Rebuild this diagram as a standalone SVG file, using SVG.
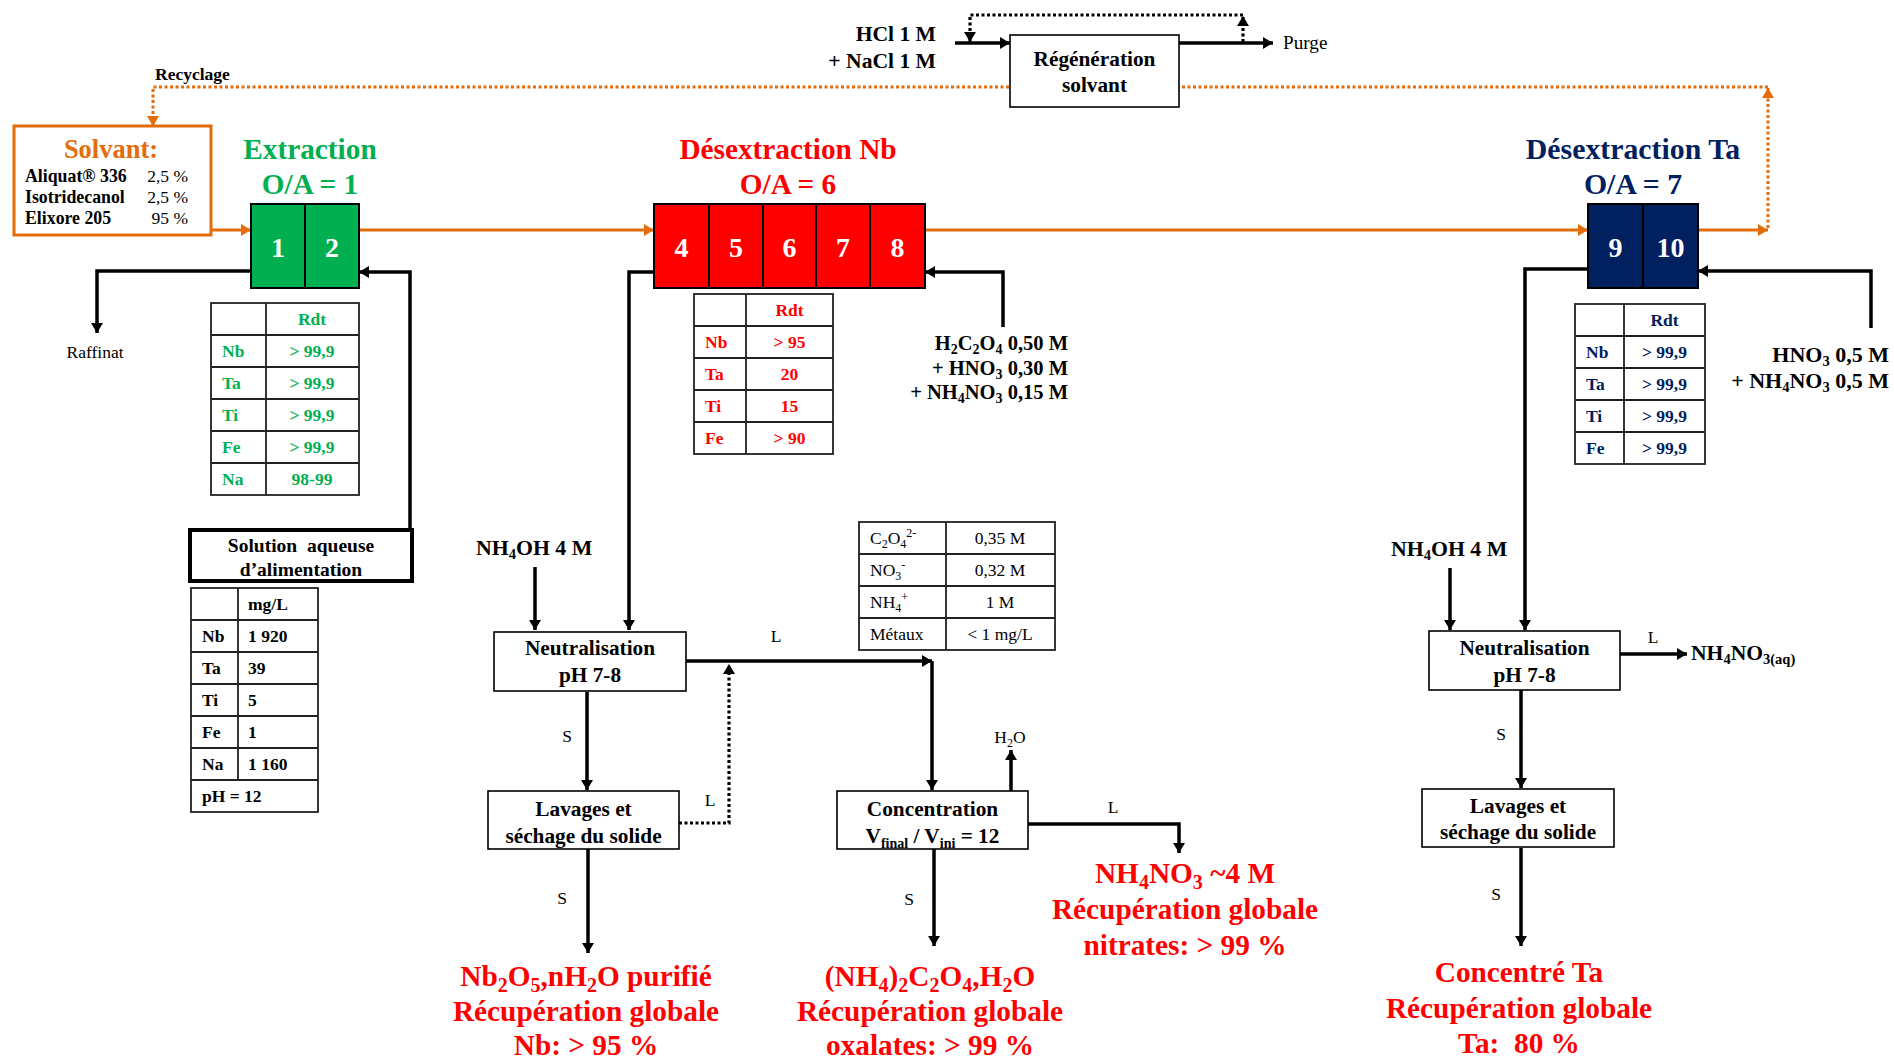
<svg xmlns="http://www.w3.org/2000/svg" width="1894" height="1059" viewBox="0 0 1894 1059">
<style>
text{font-family:"Liberation Serif","Times New Roman",serif}
.b{font-weight:bold}
.c{text-anchor:middle}
.e{text-anchor:end}
.t29{font-size:29.3px}
.t21{font-size:21.3px}
.t18{font-size:17.5px}
.box{fill:#fff;stroke:#000;stroke-width:1.6}
.ln{fill:none;stroke:#000;stroke-width:3.5}
.dot{fill:none;stroke:#000;stroke-width:3.2;stroke-dasharray:3 2.5}
.or{fill:none;stroke:#E46C0A;stroke-width:3}
.ord{fill:none;stroke:#E46C0A;stroke-width:3;stroke-dasharray:3 2.5}
.tb{fill:#fff;stroke:#222;stroke-width:1.8}
.tl{stroke:#222;stroke-width:1.8}
.green{fill:#00B050}
.red{fill:#FF0000}
.navy{fill:#002060}
.orange{fill:#E46C0A}
.wn{fill:#fff;font-weight:bold;font-size:28px;text-anchor:middle}
</style>
<defs>
<marker id="ab" markerWidth="11" markerHeight="12" refX="10" refY="6" orient="auto" markerUnits="userSpaceOnUse"><path d="M0,0 L10,6 L0,12 z" fill="#000"/></marker>
<marker id="ao" markerWidth="11" markerHeight="12" refX="10" refY="6" orient="auto" markerUnits="userSpaceOnUse"><path d="M0,0 L10,6 L0,12 z" fill="#E46C0A"/></marker>
</defs>
<rect width="1894" height="1059" fill="#fff"/>

<g id="connectors">
<path class="or" d="M211,230 H251" marker-end="url(#ao)"/>
<path class="or" d="M359,230 H654" marker-end="url(#ao)"/>
<path class="or" d="M925,230 H1588" marker-end="url(#ao)"/>
<path class="or" d="M1698,230 H1768" marker-end="url(#ao)"/>
<path class="ord" d="M1768,228 V88" marker-end="url(#ao)"/>
<path class="ord" d="M1768,87 H153 V126" marker-end="url(#ao)"/>
<path class="ln" d="M251,271 H97 V333" marker-end="url(#ab)"/>
<path class="ln" d="M410,530 V272 H359" marker-end="url(#ab)"/>
<path class="ln" d="M654,272 H629 V630" marker-end="url(#ab)"/>
<path class="ln" d="M1003,327 V272 H925" marker-end="url(#ab)"/>
<path class="ln" d="M535,567 V630" marker-end="url(#ab)"/>
<path class="ln" d="M686,661 H932" marker-end="url(#ab)"/>
<path class="ln" d="M932,661 V790" marker-end="url(#ab)"/>
<path class="ln" d="M587,692 V790" marker-end="url(#ab)"/>
<path class="ln" d="M588,849 V953" marker-end="url(#ab)"/>
<path class="dot" d="M679,823 H729 V664" marker-end="url(#ab)"/>
<path class="ln" d="M1011,791 V750" marker-end="url(#ab)"/>
<path class="ln" d="M934,849 V946" marker-end="url(#ab)"/>
<path class="ln" d="M1028,824 H1179 V853" marker-end="url(#ab)"/>
<path class="ln" d="M1588,269 H1525 V630" marker-end="url(#ab)"/>
<path class="ln" d="M1871,328 V271 H1698" marker-end="url(#ab)"/>
<path class="ln" d="M1450,568 V630" marker-end="url(#ab)"/>
<path class="ln" d="M1620,654 H1687" marker-end="url(#ab)"/>
<path class="ln" d="M1521,690 V788" marker-end="url(#ab)"/>
<path class="ln" d="M1521,848 V946" marker-end="url(#ab)"/>
<path class="ln" d="M955,43 H1010" marker-end="url(#ab)"/>
<path class="ln" d="M1179,43 H1273" marker-end="url(#ab)"/>
<path class="dot" d="M1243,42 V16" marker-end="url(#ab)"/>
<path class="dot" d="M1243,15 H970 V42" marker-end="url(#ab)"/>
</g>

<g id="labels">
<text class="b t18" x="155" y="80">Recyclage</text>
<text class="b e" font-size="21.6" x="936" y="41">HCl 1 M</text>
<text class="b e" font-size="21.6" x="936" y="68">+ NaCl 1 M</text>
<text x="1283" y="49" font-size="19.2">Purge</text>
<text class="t18 c" x="95" y="358">Raffinat</text>
<text class="b e" font-size="20.5" x="1068" y="350">H<tspan dy="4" font-size="14">2</tspan><tspan dy="-4">C</tspan><tspan dy="4" font-size="14">2</tspan><tspan dy="-4">O</tspan><tspan dy="4" font-size="14">4</tspan><tspan dy="-4"> 0,50 M</tspan></text>
<text class="b e" font-size="20.5" x="1068" y="375">+ HNO<tspan dy="4" font-size="14">3</tspan><tspan dy="-4"> 0,30 M</tspan></text>
<text class="b e" font-size="20.5" x="1068" y="399">+ NH<tspan dy="4" font-size="14">4</tspan><tspan dy="-4">NO</tspan><tspan dy="4" font-size="14">3</tspan><tspan dy="-4"> 0,15 M</tspan></text>
<text class="b e" font-size="22" x="1889" y="362">HNO<tspan dy="4" font-size="14.5">3</tspan><tspan dy="-4"> 0,5 M</tspan></text>
<text class="b e" font-size="22" x="1889" y="388">+ NH<tspan dy="4" font-size="14.5">4</tspan><tspan dy="-4">NO</tspan><tspan dy="4" font-size="14.5">3</tspan><tspan dy="-4"> 0,5 M</tspan></text>
<text class="b" font-size="21.8" x="476" y="555">NH<tspan dy="4" font-size="14.5">4</tspan><tspan dy="-4">OH 4 M</tspan></text>
<text class="b" font-size="21.8" x="1391" y="556">NH<tspan dy="4" font-size="14.5">4</tspan><tspan dy="-4">OH 4 M</tspan></text>
<text class="t18 c" x="776" y="642">L</text>
<text class="t18 c" x="710" y="806">L</text>
<text class="t18 c" x="567" y="742">S</text>
<text class="t18 c" x="562" y="904">S</text>
<text class="t18 c" x="909" y="905">S</text>
<text class="t18 c" x="1010" y="743">H<tspan dy="4" font-size="12">2</tspan><tspan dy="-4">O</tspan></text>
<text class="t18 c" x="1113" y="813">L</text>
<text class="t18 c" x="1653" y="643">L</text>
<text class="t18 c" x="1501" y="740">S</text>
<text class="t18 c" x="1496" y="900">S</text>
<text class="b" font-size="21.6" x="1691" y="660">NH<tspan dy="4" font-size="14.5">4</tspan><tspan dy="-4">NO</tspan><tspan dy="4" font-size="14.5">3(aq)</tspan></text>
</g>

<g id="titles">
<text class="b t29 c green" x="310" y="158.5">Extraction</text>
<text class="b t29 c green" x="310" y="194">O/A = 1</text>
<text class="b t29 c red" x="788" y="158.5">Désextraction Nb</text>
<text class="b t29 c red" x="788" y="194">O/A = 6</text>
<text class="b c navy" font-size="29.8" x="1633" y="159">Désextraction Ta</text>
<text class="b c navy" font-size="29.8" x="1633" y="194">O/A = 7</text>
</g>

<g id="solvant">
<rect x="14" y="126" width="197" height="109" fill="#fff" stroke="#E46C0A" stroke-width="3"/>
<text class="b c orange" font-size="26.5" x="111" y="158">Solvant:</text>
<text class="b" font-size="17.8" x="25" y="182">Aliquat® 336</text>
<text class="t18 e" x="188" y="182">2,5 %</text>
<text class="b" font-size="17.8" x="25" y="203">Isotridecanol</text>
<text class="t18 e" x="188" y="203">2,5 %</text>
<text class="b" font-size="17.8" x="25" y="224">Elixore 205</text>
<text class="t18 e" x="188" y="224">95 %</text>
</g>

<g id="regeneration">
<rect class="box" x="1010" y="35" width="169" height="72"/>
<text class="b t21 c" x="1094.5" y="66">Régénération</text>
<text class="b t21 c" x="1094.5" y="92">solvant</text>
</g>

<g id="extraction">
<rect x="251" y="204" width="108" height="84" fill="#00B050" stroke="#000" stroke-width="2"/>
<line x1="305" y1="204" x2="305" y2="288" stroke="#000" stroke-width="2"/>
<text class="wn" x="278" y="257">1</text>
<text class="wn" x="332" y="257">2</text>
</g>

<g id="desextraction-nb">
<rect x="654" y="204" width="271" height="84" fill="#FF0000" stroke="#000" stroke-width="2"/>
<path d="M709,204 V288 M763,204 V288 M816,204 V288 M870,204 V288" stroke="#000" stroke-width="2"/>
<text class="wn" x="681.5" y="257">4</text>
<text class="wn" x="736" y="257">5</text>
<text class="wn" x="789.5" y="257">6</text>
<text class="wn" x="843" y="257">7</text>
<text class="wn" x="897.5" y="257">8</text>
</g>

<g id="desextraction-ta">
<rect x="1588" y="204" width="110" height="84" fill="#002060" stroke="#000" stroke-width="2"/>
<line x1="1643" y1="204" x2="1643" y2="288" stroke="#000" stroke-width="2"/>
<text class="wn" x="1615.5" y="257">9</text>
<text class="wn" x="1670.5" y="257">10</text>
</g>

<g id="rdt-extraction">
<rect class="tb" x="211" y="303" width="148" height="192"/>
<path class="tl" d="M266,303 V495 M211,335 H359 M211,367 H359 M211,399 H359 M211,431 H359 M211,463 H359"/>
<g class="b t18 green">
<text class="c" x="312" y="325">Rdt</text>
<text x="222" y="357">Nb</text><text class="c" x="312" y="357">&gt; 99,9</text>
<text x="222" y="389">Ta</text><text class="c" x="312" y="389">&gt; 99,9</text>
<text x="222" y="421">Ti</text><text class="c" x="312" y="421">&gt; 99,9</text>
<text x="222" y="453">Fe</text><text class="c" x="312" y="453">&gt; 99,9</text>
<text x="222" y="485">Na</text><text class="c" x="312" y="485">98-99</text>
</g>
</g>

<g id="solution-aqueuse">
<rect x="190" y="530" width="222" height="51" fill="#fff" stroke="#000" stroke-width="4"/>
<text class="b c" font-size="19.5" x="301" y="552" xml:space="preserve">Solution  aqueuse</text>
<text class="b c" font-size="19.5" x="301" y="576">d’alimentation</text>
</g>

<g id="feed-table">
<rect class="tb" x="191" y="588" width="127" height="224"/>
<path class="tl" d="M238,588 V780 M191,620 H318 M191,652 H318 M191,684 H318 M191,716 H318 M191,748 H318 M191,780 H318"/>
<g class="b t18">
<text x="248" y="610">mg/L</text>
<text x="202" y="642">Nb</text><text x="248" y="642">1 920</text>
<text x="202" y="674">Ta</text><text x="248" y="674">39</text>
<text x="202" y="706">Ti</text><text x="248" y="706">5</text>
<text x="202" y="738">Fe</text><text x="248" y="738">1</text>
<text x="202" y="770">Na</text><text x="248" y="770">1 160</text>
<text x="202" y="802">pH = 12</text>
</g>
</g>

<g id="rdt-nb">
<rect class="tb" x="694" y="294" width="139" height="160"/>
<path class="tl" d="M746,294 V454 M694,326 H833 M694,358 H833 M694,390 H833 M694,422 H833"/>
<g class="b t18 red">
<text class="c" x="789.5" y="316">Rdt</text>
<text x="705" y="348">Nb</text><text class="c" x="789.5" y="348">&gt; 95</text>
<text x="705" y="380">Ta</text><text class="c" x="789.5" y="380">20</text>
<text x="705" y="412">Ti</text><text class="c" x="789.5" y="412">15</text>
<text x="705" y="444">Fe</text><text class="c" x="789.5" y="444">&gt; 90</text>
</g>
</g>

<g id="rdt-ta">
<rect class="tb" x="1575" y="304" width="130" height="160"/>
<path class="tl" d="M1624,304 V464 M1575,336 H1705 M1575,368 H1705 M1575,400 H1705 M1575,432 H1705"/>
<g class="b t18 navy">
<text class="c" x="1664.5" y="326">Rdt</text>
<text x="1586" y="358">Nb</text><text class="c" x="1664.5" y="358">&gt; 99,9</text>
<text x="1586" y="390">Ta</text><text class="c" x="1664.5" y="390">&gt; 99,9</text>
<text x="1586" y="422">Ti</text><text class="c" x="1664.5" y="422">&gt; 99,9</text>
<text x="1586" y="454">Fe</text><text class="c" x="1664.5" y="454">&gt; 99,9</text>
</g>
</g>

<g id="liquor-table">
<rect class="tb" x="859" y="522" width="196" height="128"/>
<path class="tl" d="M946,522 V650 M859,554 H1055 M859,586 H1055 M859,618 H1055"/>
<g class="t18">
<text x="870" y="544">C<tspan dy="4" font-size="12">2</tspan><tspan dy="-4">O</tspan><tspan dy="4" font-size="12">4</tspan><tspan dy="-11" font-size="12">2-</tspan></text>
<text class="c" x="1000" y="544">0,35 M</text>
<text x="870" y="576">NO<tspan dy="4" font-size="12">3</tspan><tspan dy="-11" font-size="12">-</tspan></text>
<text class="c" x="1000" y="576">0,32 M</text>
<text x="870" y="608">NH<tspan dy="4" font-size="12">4</tspan><tspan dy="-11" font-size="12">+</tspan></text>
<text class="c" x="1000" y="608">1 M</text>
<text x="870" y="640">Métaux</text>
<text class="c" x="1000" y="640">&lt; 1 mg/L</text>
</g>
</g>

<g id="neutralisation-nb">
<rect class="box" x="494" y="632" width="192" height="59"/>
<text class="b t21 c" x="590" y="655">Neutralisation</text>
<text class="b t21 c" x="590" y="682">pH 7-8</text>
</g>

<g id="lavages-nb">
<rect class="box" x="488" y="791" width="191" height="58"/>
<text class="b t21 c" x="583.5" y="816">Lavages et</text>
<text class="b t21 c" x="583.5" y="843">séchage du solide</text>
</g>

<g id="concentration">
<rect class="box" x="837" y="791" width="191" height="58"/>
<text class="b t21 c" x="932.5" y="816">Concentration</text>
<text class="b t21 c" x="932.5" y="843">V<tspan dy="5" font-size="14">final</tspan><tspan dy="-5"> / V</tspan><tspan dy="5" font-size="14">ini</tspan><tspan dy="-5"> = 12</tspan></text>
</g>

<g id="neutralisation-ta">
<rect class="box" x="1429" y="631" width="191" height="59"/>
<text class="b t21 c" x="1524.5" y="655">Neutralisation</text>
<text class="b t21 c" x="1524.5" y="682">pH 7-8</text>
</g>

<g id="lavages-ta">
<rect class="box" x="1422" y="789" width="192" height="58"/>
<text class="b t21 c" x="1518" y="813">Lavages et</text>
<text class="b t21 c" x="1518" y="839">séchage du solide</text>
</g>

<g id="produit-nb2o5">
<text class="b t29 c red" x="586" y="986">Nb<tspan dy="6" font-size="20">2</tspan><tspan dy="-6">O</tspan><tspan dy="6" font-size="20">5</tspan><tspan dy="-6">,nH</tspan><tspan dy="6" font-size="20">2</tspan><tspan dy="-6">O purifié</tspan></text>
<text class="b t29 c red" x="586" y="1021">Récupération globale</text>
<text class="b t29 c red" x="586" y="1055">Nb: &gt; 95 %</text>
</g>

<g id="produit-oxalate">
<text class="b t29 c red" x="930" y="986">(NH<tspan dy="6" font-size="20">4</tspan><tspan dy="-6">)</tspan><tspan dy="6" font-size="20">2</tspan><tspan dy="-6">C</tspan><tspan dy="6" font-size="20">2</tspan><tspan dy="-6">O</tspan><tspan dy="6" font-size="20">4</tspan><tspan dy="-6">,H</tspan><tspan dy="6" font-size="20">2</tspan><tspan dy="-6">O</tspan></text>
<text class="b t29 c red" x="930" y="1021">Récupération globale</text>
<text class="b t29 c red" x="930" y="1055">oxalates: &gt; 99 %</text>
</g>

<g id="produit-nitrate">
<text class="b t29 c red" x="1185" y="883">NH<tspan dy="6" font-size="20">4</tspan><tspan dy="-6">NO</tspan><tspan dy="6" font-size="20">3</tspan><tspan dy="-6"> ~4 M</tspan></text>
<text class="b t29 c red" x="1185" y="919">Récupération globale</text>
<text class="b t29 c red" x="1185" y="955">nitrates: &gt; 99 %</text>
</g>

<g id="produit-ta">
<text class="b t29 c red" x="1519" y="982">Concentré Ta</text>
<text class="b t29 c red" x="1519" y="1018">Récupération globale</text>
<text class="b t29 c red" x="1519" y="1053" xml:space="preserve">Ta:  80 %</text>
</g>
</svg>
